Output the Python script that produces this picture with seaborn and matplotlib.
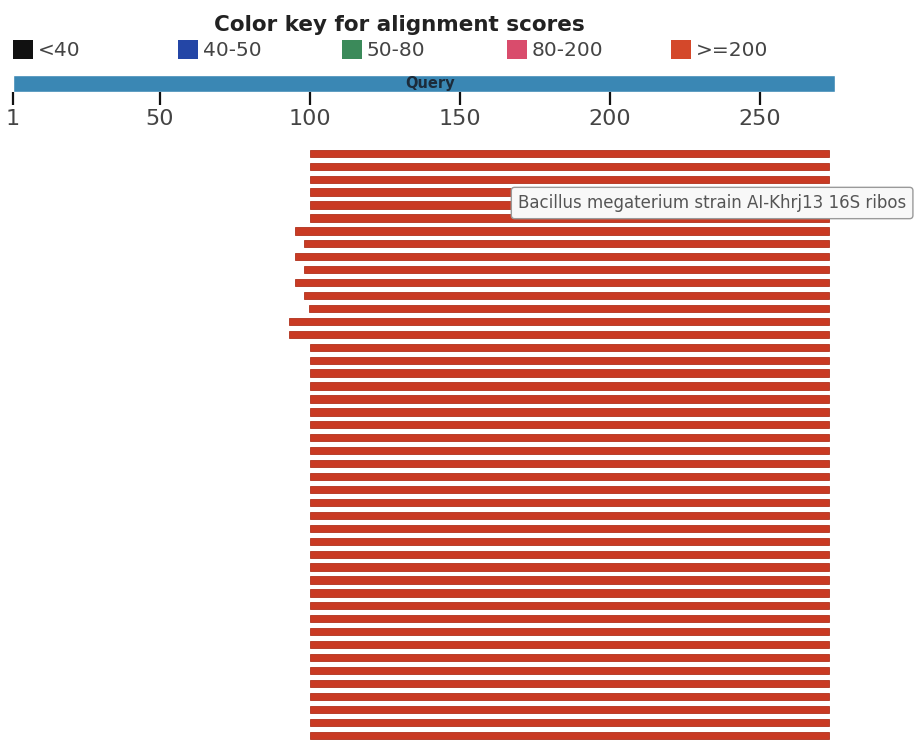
import matplotlib
matplotlib.use("Agg")
import matplotlib.pyplot as plt
from matplotlib.patches import Rectangle
import seaborn as sns
import pandas as pd

W, H, DPI = 918, 741, 100

# query ruler
query_start, query_end = 1, 275
query_ticks = [1, 50, 100, 150, 200, 250]

# hits (start / end on the query, all scores >= 200)
hit_starts = [100, 100, 100, 100, 100, 100, 95, 98, 95, 98, 95, 98, 99.5, 93, 93,
              100, 100, 100, 100, 100, 100, 100, 100, 100, 100, 100, 100, 100, 100,
              100, 100, 100, 100, 100, 100, 100, 100, 100, 100, 100, 100, 100, 100,
              100, 100, 100]
hit_ends = [273, 273, 273, 273, 273, 273, 273, 273, 273, 273, 273, 273, 273, 273, 273,
            273, 273, 273, 273, 273, 273, 273, 273, 273, 273, 273, 273, 273, 273,
            273, 273, 273, 273, 273, 273, 273, 273, 273, 273, 273, 273, 273, 273,
            273, 273, 273]

key_labels = ["<40", "40-50", "50-80", "80-200", ">=200"]
key_colors = ["#111111", "#2446a6", "#3b8a5a", "#d94c6c", "#d4482a"]

tooltip_text = "Bacillus megaterium strain AI-Khrj13 16S ribos"

hits = pd.DataFrame({"start": hit_starts, "end": hit_ends})
hits["row"] = range(len(hits))

sns.set_theme(style="white")
plt.rcParams["font.family"] = ["DejaVu Sans"]

fig = plt.figure(figsize=(W / DPI, H / DPI), dpi=DPI)
fig.patch.set_facecolor("white")


def fx(px):
    return px / W


def fy(py):
    return 1 - py / H


xlim = (-10 / 3, (W - 10) / 3)

# colour key
fig.text(fx(399), fy(25), "Color key for alignment scores", ha="center", va="center",
         fontsize=15.5, fontweight="bold", color="#222222")
key_x = [13, 178, 342, 507, 671]
for x, lab, col in zip(key_x, key_labels, key_colors):
    fig.patches.append(Rectangle((fx(x), fy(59)), 20 / W, 19 / H, transform=fig.transFigure,
                                 facecolor=col, edgecolor="none"))
    fig.text(fx(x + 25), fy(51), lab, ha="left", va="center", fontsize=14.5, color="#444444")

# query bar
ax_q = fig.add_axes([0, fy(92), 1, 17 / H])
ax_q.barh(0, query_end - query_start, left=query_start, height=1, color="#3a87b4")
ax_q.set_xlim(xlim)
ax_q.set_ylim(-0.5, 0.5)
ax_q.set_yticks([])
ax_q.set_xticks(query_ticks)
ax_q.tick_params(axis="x", bottom=True, direction="out", length=9.5, width=1.6,
                 color="#111111", labelsize=16, labelcolor="#444444", pad=3)
sns.despine(ax=ax_q, left=True, bottom=True)
ax_q.set_facecolor("none")
ax_q.text(140, 0, "Query", ha="center", va="center", fontsize=10.5, fontweight="bold",
          color="#1c2b3a")

# hits
ax = fig.add_axes([0, 0, 1, fy(140)])
ax.barh(hits["row"], hits["end"] - hits["start"], left=hits["start"], height=0.56,
        color="#c93a23", edgecolor="#b0311c", linewidth=0.6)
ax.set_xlim(xlim)
ax.set_ylim((741 - 153.3) / 12.93, (140 - 153.3) / 12.93)
ax.axis("off")

# tooltip
fig.text(fx(518), fy(203), tooltip_text, ha="left", va="center", fontsize=12, color="#555555",
         zorder=5, bbox=dict(boxstyle="round,pad=0.4,rounding_size=0.2", facecolor="#f8f8f8",
                             edgecolor="#9a9a9a", linewidth=1))

fig.savefig("out.png", dpi=DPI, facecolor="white")
